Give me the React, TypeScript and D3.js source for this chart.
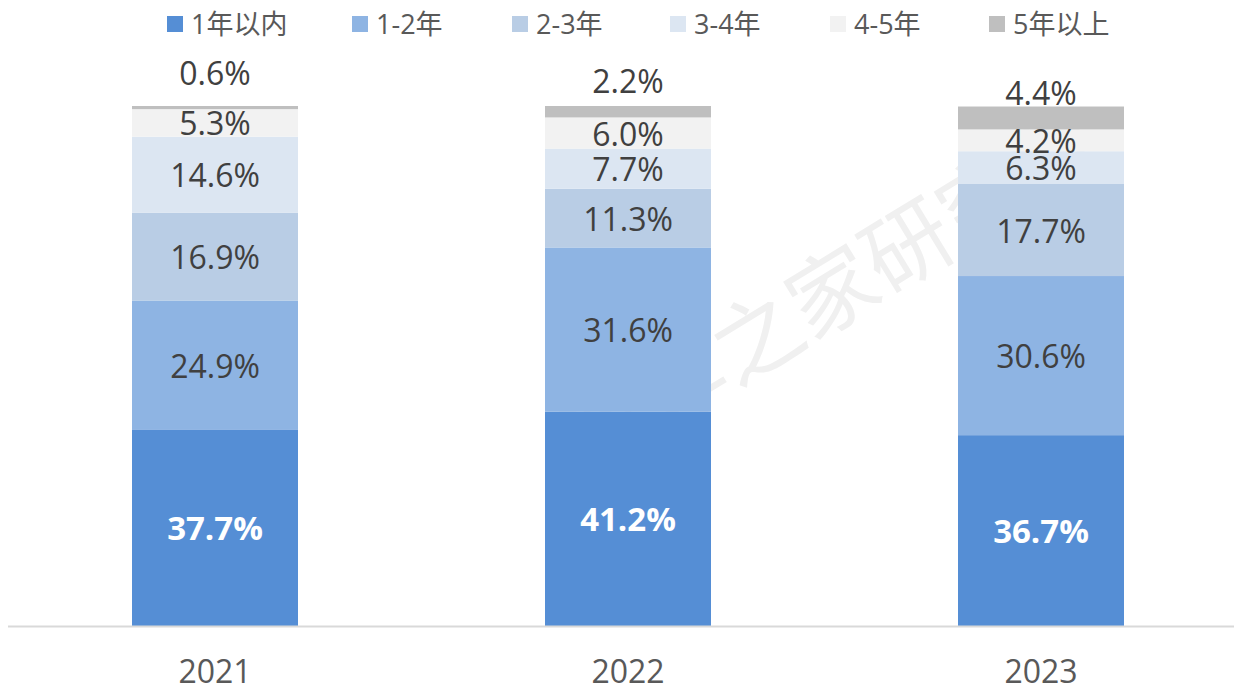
import React from "react";
import * as d3 from "d3";

const years = ["2021", "2022", "2023"];
const seriesNames = ["1年以内", "1-2年", "2-3年", "3-4年", "4-5年", "5年以上"];
const within1 = [37.7, 41.2, 36.7];
const y1to2 = [24.9, 31.6, 30.6];
const y2to3 = [16.9, 11.3, 17.7];
const y3to4 = [14.6, 7.7, 6.3];
const y4to5 = [5.3, 6.0, 4.2];
const over5 = [0.6, 2.2, 4.4];
const colors = ["#558ED5", "#8EB4E3", "#B9CDE5", "#DCE6F2", "#F2F2F2", "#BFBFBF"];

const W = 1234;
const H = 687;
const FONT = "'Open Sans', 'Noto Sans CJK SC', sans-serif";

export default function App() {
  const seriesVals = [within1, y1to2, y2to3, y3to4, y4to5, over5];
  const rows = years.map((yr, i) => {
    const r: any = { year: yr };
    seriesNames.forEach((s, k) => (r[s] = seriesVals[k][i]));
    return r;
  });
  const stack = d3.stack<any>().keys(seriesNames)(rows);

  const x = d3.scalePoint().domain(years).range([215, 1041]);
  const y = d3.scaleLinear().domain([0, 100]).range([626, 106]);
  const bw = 166;
  const centers = years.map((yr) => x(yr) as number);

  const legendX = [167, 352, 512, 670, 830, 989];

  return (
    <svg width={W} height={H} style={{ position: "absolute", left: 0, top: 0 }}>
      <rect width={W} height={H} fill="#fff" />
      <g transform="rotate(-31.4 752 333)">
        <text
          x={752 + 90}
          y={333}
          fontSize={88}
          fill="#F0F0F0"
          fontFamily="'Noto Sans CJK SC', sans-serif"
          textAnchor="middle"
          dominantBaseline="central"
        >
          汽车之家研究院
        </text>
      </g>
      {stack.map((layer, k) =>
        layer.map((d, i) => {
          const y0 = y(d[0]);
          const y1 = y(d[1]);
          return <rect key={k + "-" + i} x={centers[i] - bw / 2} y={y1} width={bw} height={y0 - y1} fill={colors[k]} />;
        })
      )}
      {stack.map((layer, k) =>
        layer.map((d, i) => {
          const y0 = y(d[0]);
          const y1 = y(d[1]);
          const v = seriesVals[k][i];
          const cy = k === 5 ? y0 - 37 : (y0 + y1) / 2;
          const first = k === 0;
          return (
            <text
              key={"l" + k + "-" + i}
              x={centers[i]}
              y={cy}
              textAnchor="middle"
              dominantBaseline="central"
              fontFamily={FONT}
              fontSize={first ? 33 : 32}
              fontWeight={first ? 700 : 400}
              fill={first ? "#FFFFFF" : "#404040"}
            >
              {v.toFixed(1) + "%"}
            </text>
          );
        })
      )}
      <line x1={8} x2={1234} y1={626.5} y2={626.5} stroke="#D9D9D9" strokeWidth={2} />
      {years.map((yr, i) => (
        <text
          key={yr}
          x={centers[i]}
          y={670}
          textAnchor="middle"
          dominantBaseline="central"
          fontFamily={FONT}
          fontSize={32}
          fill="#595959"
        >
          {yr}
        </text>
      ))}
      {seriesNames.map((s, k) => (
        <g key={s}>
          <rect x={legendX[k]} y={16} width={16} height={16} fill={colors[k]} />
          <text x={legendX[k] + 24} y={23.5} dominantBaseline="central" fontFamily={FONT} fontSize={27} fill="#595959">
            {s}
          </text>
        </g>
      ))}
    </svg>
  );
}
